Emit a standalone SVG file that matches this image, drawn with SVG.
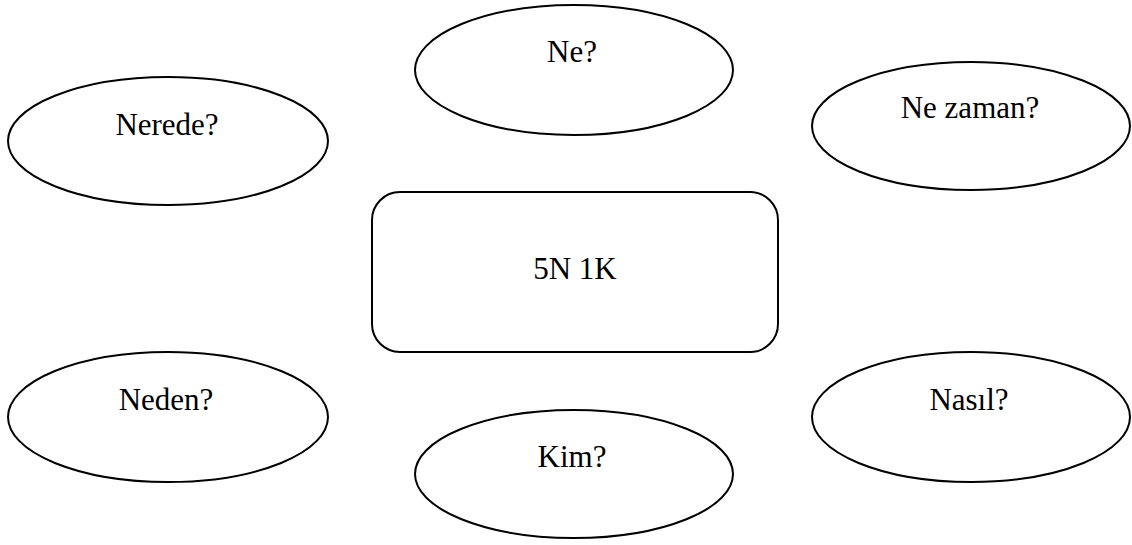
<svg xmlns="http://www.w3.org/2000/svg" width="1132" height="545" viewBox="0 0 1132 545">
<style>
.n{fill:#fff;stroke:#000;stroke-width:2}
.t{font-family:"Liberation Serif","Times New Roman",serif;font-size:31px;fill:#000;text-anchor:middle}
</style>
<rect width="1132" height="545" fill="#fff"/>
<g id="connectors"></g>
<g id="ne"><ellipse class="n" cx="574" cy="70" rx="159" ry="65"/><text class="t" x="572" y="62">Ne?</text></g>
<g id="nerede"><ellipse class="n" cx="168" cy="141" rx="160" ry="64"/><text class="t" x="167" y="135">Nerede?</text></g>
<g id="nezaman"><ellipse class="n" cx="971" cy="126" rx="159" ry="64"/><text class="t" x="970" y="118">Ne zaman?</text></g>
<g id="center"><rect class="n" x="372" y="192" width="406" height="160" rx="28"/><text class="t" x="575" y="279">5N 1K</text></g>
<g id="neden"><ellipse class="n" cx="168" cy="417" rx="160" ry="65"/><text class="t" x="166" y="410">Neden?</text></g>
<g id="kim"><ellipse class="n" cx="574" cy="474" rx="159" ry="64"/><text class="t" x="572" y="467">Kim?</text></g>
<g id="nasil"><ellipse class="n" cx="971" cy="417" rx="159" ry="65"/><text class="t" x="969" y="410">Nasıl?</text></g>
</svg>
